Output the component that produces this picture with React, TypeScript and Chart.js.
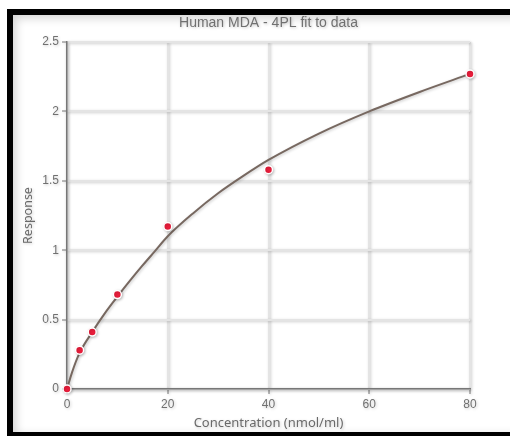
import React, { useEffect, useRef } from "react";
import { Chart, registerables } from "chart.js";

Chart.register(...registerables);

const chartTitle = "Human MDA - 4PL fit to data";
const xAxisTitle = "Concentration (nmol/ml)";
const yAxisTitle = "Response";

// measured standards
const concentrations = [0, 2.5, 5, 10, 20, 40, 80];
const responses = [0, 0.28, 0.41, 0.68, 1.17, 1.58, 2.27];

// fitted 4PL curve
const fitX = [0, 1, 2.5, 5, 7.5, 10, 12.5, 15, 17.5, 20, 25, 30, 35, 40, 50, 60, 70, 80];
const fitY = [0, 0.12, 0.26, 0.41, 0.545, 0.665, 0.78, 0.89, 0.995, 1.1, 1.265, 1.41, 1.535, 1.65, 1.84, 2.0, 2.14, 2.27];

const xTicks = [0, 20, 40, 60, 80];
const yTicks = [0, 0.5, 1, 1.5, 2, 2.5];

const shadowPlugin = {
  id: "shadow",
  beforeDraw(chart: any) {
    const ctx = chart.ctx;
    ctx.shadowColor = "rgba(0,0,0,0.22)";
    ctx.shadowBlur = 3;
    ctx.shadowOffsetX = 1;
    ctx.shadowOffsetY = 1;
  },
};

export default function App() {
  const ref = useRef<HTMLCanvasElement | null>(null);
  useEffect(() => {
    document.body.style.overflow = "hidden";
    const canvas = ref.current!;
    const chart = new Chart(canvas, {
      type: "scatter",
      data: {
        datasets: [
          {
            type: "scatter",
            label: "Standards",
            data: concentrations.map((x, i) => ({ x, y: responses[i] })),
            pointRadius: 4,
            pointHoverRadius: 4,
            backgroundColor: "#ec1e3c",
            borderColor: "#ffffff",
            borderWidth: 1.5,
            clip: false,
            order: 0,
          } as any,
          {
            type: "line",
            label: "4PL fit",
            data: fitX.map((x, i) => ({ x, y: fitY[i] })),
            borderColor: "#776860",
            borderWidth: 2,
            pointRadius: 0,
            cubicInterpolationMode: "monotone",
            fill: false,
            clip: false,
            order: 1,
          } as any,
        ],
      },
      options: {
        animation: false,
        responsive: false,
        layout: { padding: { top: 15, right: 40, bottom: 0, left: 0 } },
        plugins: {
          legend: { display: false },
          tooltip: { enabled: false },
          title: {
            display: true,
            fullSize: false,
            text: chartTitle,
            color: "#707070",
            font: { family: "Liberation Sans", size: 14, weight: "normal" },
            padding: { top: 0, bottom: 10.2 },
          },
        },
        scales: {
          x: {
            type: "linear",
            min: 0,
            max: 80,
            afterBuildTicks: (s: any) => {
              s.ticks = xTicks.map((v) => ({ value: v }));
            },
            afterFit: (s: any) => {
              s.height = 47;
            },
            ticks: {
              color: "#707070",
              font: { family: "Liberation Sans", size: 12 },
              padding: 3,
              maxRotation: 0,
              callback: (v: any) => String(v),
            },
            grid: {
              color: "#e4e4e4",
              lineWidth: 2,
              tickLength: 5,
              tickColor: "#777777",
              tickWidth: 1,
            },
            border: { color: "#777777", width: 1.5 },
            title: {
              display: true,
              text: xAxisTitle,
              color: "#6a6a6a",
              font: { family: "Noto Sans", size: 13 },
              padding: { top: 0, bottom: 5.2 },
            },
          },
          y: {
            type: "linear",
            min: 0,
            max: 2.5,
            afterBuildTicks: (s: any) => {
              s.ticks = yTicks.map((v) => ({ value: v }));
            },
            afterFit: (s: any) => {
              s.width = 67;
            },
            ticks: {
              color: "#707070",
              font: { family: "Liberation Sans", size: 12 },
              padding: 3,
              callback: (v: any) => String(v),
            },
            grid: {
              color: "#e4e4e4",
              lineWidth: 2,
              tickLength: 5,
              tickColor: "#777777",
              tickWidth: 1,
            },
            border: { color: "#777777", width: 1.5 },
            title: {
              display: true,
              text: yAxisTitle,
              color: "#6a6a6a",
              font: { family: "Noto Sans", size: 12.5 },
              padding: { top: 20.5, bottom: 0 },
            },
          },
        },
      },
      plugins: [shadowPlugin],
    });
    return () => chart.destroy();
  }, []);

  return (
    <div style={{ position: "fixed", left: 0, top: 0, width: 510, height: 436, background: "#ffffff", overflow: "hidden" }}>
      <div
        style={{
          position: "absolute",
          left: 7,
          top: 9,
          width: 520,
          height: 428,
          boxSizing: "border-box",
          borderLeft: "6px solid #000",
          borderTop: "6px solid #000",
          borderBottom: "5px solid #000",
          background: "#ffffff",
          boxShadow: "inset 3px 3px 10px rgba(0,0,0,0.18)",
        }}
      />
      <canvas ref={ref} width={510} height={436} style={{ position: "absolute", left: 0, top: 0, display: "block" }} />
    </div>
  );
}
